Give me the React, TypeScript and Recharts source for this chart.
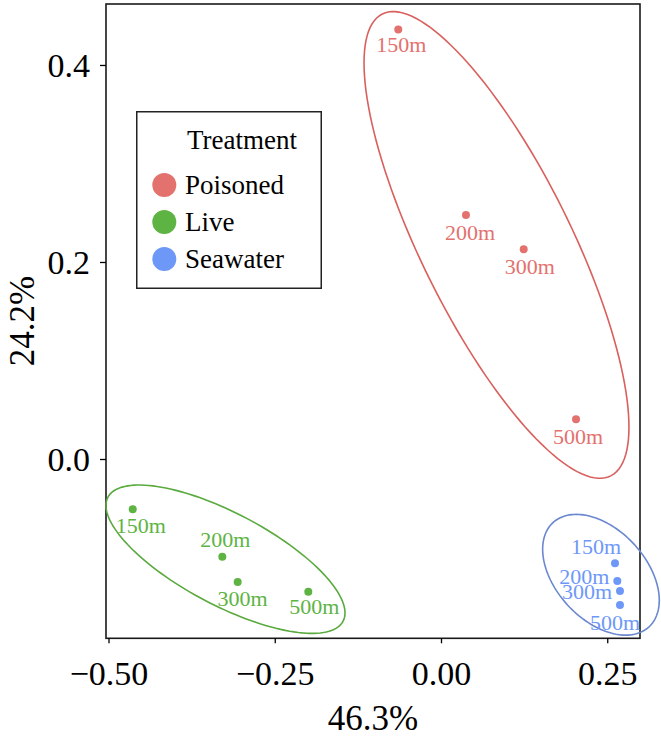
import React from "react";
import { Legend, ReferenceArea, Scatter, ScatterChart, XAxis, YAxis } from "recharts";

const SERIF = "Liberation Serif, Times New Roman, DejaVu Serif, serif";

const depths = ["150m", "200m", "300m", "500m"];

const poisonedX = [-0.065, 0.0368, 0.1236, 0.2023];
const poisonedY = [0.4365, 0.2482, 0.2134, 0.0408];
const liveX = [-0.4643, -0.3296, -0.3065, -0.2003];
const liveY = [-0.0505, -0.0987, -0.1244, -0.1342];
const seawaterX = [0.2609, 0.2644, 0.2684, 0.2684];
const seawaterY = [-0.1054, -0.1234, -0.1335, -0.1477];

// ellipses: centre, half extents in data units, correlation of the outline
const poisonedEllipse = { cx: 0.0827, cy: 0.2178, rx: 0.1992, ry: 0.2369, rho: -0.78 };
const liveEllipse = { cx: -0.3248, cy: -0.1012, rx: 0.1797, ry: 0.0753, rho: -0.724 };
const seawaterEllipse = { cx: 0.2398, cy: -0.117, rx: 0.0877, ry: 0.0613, rho: -0.423 };

const xTicks = [-0.5, -0.25, 0, 0.25];
const yTicks = [0, 0.2, 0.4];
const X_DOMAIN: [number, number] = [-0.5045, 0.2985];
const Y_DOMAIN: [number, number] = [-0.1815, 0.4624];

// label nudges in px (dx, dy from the dot)
const poisonedNudge = [[3, 15], [4, 17], [6, 17], [2, 17]];
const liveNudge = [[8, 16], [3, -17], [5, 16], [6, 15]];
const seawaterNudge = [[-19, -17], [-33, -5], [-33, 0], [-5, 17]];

const groups = [
  { name: "Poisoned", xs: poisonedX, ys: poisonedY, ellipse: poisonedEllipse, nudge: poisonedNudge, color: "#E3716E", line: "#D8605D" },
  { name: "Live", xs: liveX, ys: liveY, ellipse: liveEllipse, nudge: liveNudge, color: "#5DB443", line: "#5AAA3F" },
  { name: "Seawater", xs: seawaterX, ys: seawaterY, ellipse: seawaterEllipse, nudge: seawaterNudge, color: "#6E98F8", line: "#6B88CF" },
];

function toPoints(xs: number[], ys: number[]) {
  return xs.map((x, i) => ({ x, y: ys[i], depth: depths[i], i }));
}

function pointShape(color: string, nudge: number[][]) {
  return (props: any) => {
    const { cx, cy, payload } = props;
    const [dx, dy] = nudge[payload.i];
    return (
      <g>
        <circle cx={cx} cy={cy} r={4} fill={color} />
        <text x={cx + dx} y={cy + dy} dy="0.35em" textAnchor="middle" fill={color} fontSize={22} style={{ fontFamily: SERIF }}>
          {payload.depth}
        </text>
      </g>
    );
  };
}

function ellipseShape(rho: number, color: string) {
  return (props: any) => {
    const { x, y, width, height } = props;
    const k = Math.sqrt(1 - rho * rho);
    let d = "";
    for (let i = 0; i <= 144; i++) {
      const t = (i / 144) * 2 * Math.PI;
      const u = Math.cos(t);
      const v = rho * Math.cos(t) + k * Math.sin(t);
      const px = x + ((1 + u) * width) / 2;
      const py = y + ((1 - v) * height) / 2;
      d += (i ? "L" : "M") + px.toFixed(2) + "," + py.toFixed(2);
    }
    return <path d={d + "Z"} fill="none" stroke={color} strokeWidth={1.6} />;
  };
}

function frameShape(props: any) {
  const { x, y, width, height } = props;
  return <rect x={x} y={y} width={width} height={height} fill="none" stroke="#1a1a1a" strokeWidth={1.6} />;
}

const fmtX = (v: number) => (v < 0 ? "\u2212" : "") + Math.abs(v).toFixed(2);
const fmtY = (v: number) => (v < 0 ? "\u2212" : "") + Math.abs(v).toFixed(1);

function XTick(props: any) {
  const { x, y, payload } = props;
  return (
    <text x={x} y={y} dy="0.71em" textAnchor="middle" fontSize={34} fill="#000" style={{ fontFamily: SERIF }}>
      {fmtX(payload.value)}
    </text>
  );
}

function YTick(props: any) {
  const { x, y, payload } = props;
  return (
    <text x={x} y={y} dy="0.35em" textAnchor="end" fontSize={34} fill="#000" style={{ fontFamily: SERIF }}>
      {fmtY(payload.value)}
    </text>
  );
}

function LegendBox() {
  return (
    <svg width={186} height={178} style={{ display: "block" }}>
      <rect x={0.75} y={0.75} width={184.5} height={176.5} fill="#fff" stroke="#222" strokeWidth={1.5} />
      <text x={51} y={29} dy="0.35em" fontSize={27} fill="#000" style={{ fontFamily: SERIF }}>
        Treatment
      </text>
      {groups.map((g, i) => (
        <g key={g.name}>
          <circle cx={28.3} cy={74 + i * 37} r={12} fill={g.color} />
          <text x={49} y={74 + i * 37} dy="0.35em" fontSize={27} fill="#000" style={{ fontFamily: SERIF }}>
            {g.name}
          </text>
        </g>
      ))}
    </svg>
  );
}

export default function App() {
  return (
    <div style={{ position: "absolute", left: 0, top: 0, width: 661, height: 741, background: "#fff", fontFamily: SERIF }}>
      <ScatterChart width={661} height={741} margin={{ top: 4, right: 21, bottom: 0, left: 0 }}>
        <XAxis
          type="number"
          dataKey="x"
          domain={X_DOMAIN}
          ticks={xTicks}
          height={102.7}
          axisLine={false}
          tickSize={5}
          tickMargin={18}
          tickLine={{ stroke: "#000", strokeWidth: 1.3 }}
          tick={<XTick />}
          label={(p: any) => (
            <text x={p.viewBox.x + p.viewBox.width / 2} y={p.viewBox.y + 91.7} textAnchor="middle" fontSize={35} fill="#000" style={{ fontFamily: SERIF }}>
              46.3%
            </text>
          )}
        />
        <YAxis
          type="number"
          dataKey="y"
          domain={Y_DOMAIN}
          ticks={yTicks}
          width={106}
          axisLine={false}
          tickSize={6}
          tickMargin={10}
          tickLine={{ stroke: "#000", strokeWidth: 1.3 }}
          tick={<YTick />}
          label={(p: any) => {
            const x = p.viewBox.x + 22;
            const y = p.viewBox.y + p.viewBox.height / 2;
            return (
              <text x={x} y={y} dy="0.35em" transform={`rotate(-90, ${x}, ${y})`} textAnchor="middle" fontSize={35} fill="#000" style={{ fontFamily: SERIF }}>
                24.2%
              </text>
            );
          }}
        />
        <ReferenceArea
          x1={X_DOMAIN[0]}
          x2={X_DOMAIN[1]}
          y1={Y_DOMAIN[0]}
          y2={Y_DOMAIN[1]}
          ifOverflow="visible"
          shape={frameShape}
        />
        {groups.map((g) => (
          <ReferenceArea
            key={"e-" + g.name}
            x1={g.ellipse.cx - g.ellipse.rx}
            x2={g.ellipse.cx + g.ellipse.rx}
            y1={g.ellipse.cy - g.ellipse.ry}
            y2={g.ellipse.cy + g.ellipse.ry}
            ifOverflow="visible"
            shape={ellipseShape(g.ellipse.rho, g.line)}
          />
        ))}
        {groups.map((g) => (
          <Scatter
            key={g.name}
            name={g.name}
            data={toPoints(g.xs, g.ys)}
            fill={g.color}
            shape={pointShape(g.color, g.nudge)}
            isAnimationActive={false}
          />
        ))}
        <Legend
          layout="vertical"
          align="center"
          verticalAlign="middle"
          wrapperStyle={{ left: 136, top: 111, width: 186, height: 178 }}
          content={() => <LegendBox />}
        />
      </ScatterChart>
    </div>
  );
}
